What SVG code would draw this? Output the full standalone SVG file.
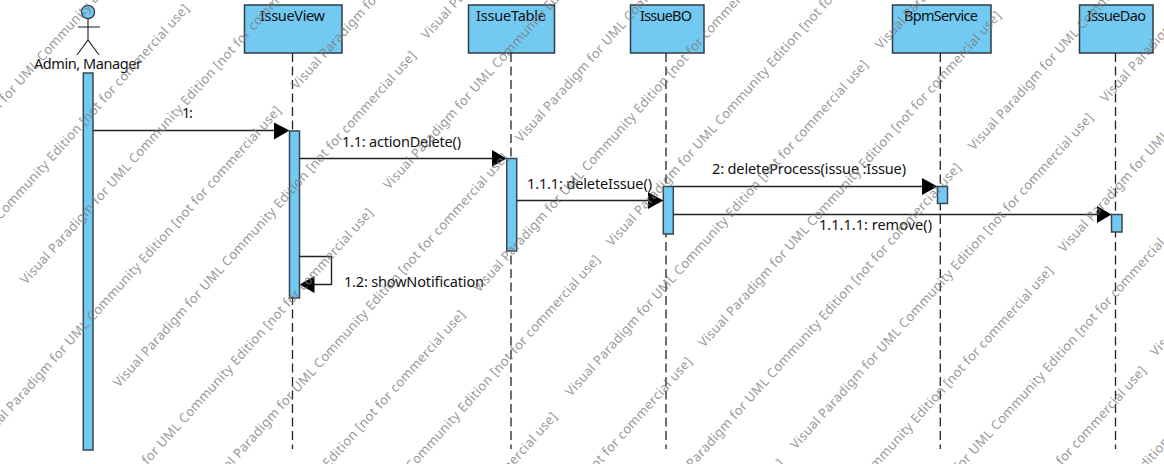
<svg xmlns="http://www.w3.org/2000/svg" width="1164" height="464" viewBox="0 0 1164 464">
<style>
text{font-family:"Noto Sans","DejaVu Sans",sans-serif}
.box{fill:#72caf2;stroke:#2f3b45;stroke-width:1.5}
.act{fill:#72caf2;stroke:#3a4650;stroke-width:1.5}
.life{fill:none;stroke:#222;stroke-width:1.3;stroke-dasharray:9 4.5}
.msg{fill:none;stroke:#222;stroke-width:1.4}
.head{fill:#000}
.actor{fill:none;stroke:#1c1c1c;stroke-width:1.1}
.lbl{font-size:14.500px;fill:#111;text-anchor:start}
.wm{font-size:13px;fill:#7c7c7c;fill-opacity:.8}
</style>
<rect width="1164" height="464" fill="#fff"/>
<g id="node-actor">
<circle cx="88" cy="12" r="6.6" fill="#72caf2" stroke="#2f3b45" stroke-width="1.3"/>
<path class="actor" d="M88 19V40M78 27H100M77 55L88 40L99 55"/>
<text class="lbl" x="34" y="69" textLength="108">Admin, Manager</text>
<rect class="act" x="83.3" y="73" width="9.7" height="377"/>
</g>
<g id="node-issueview">
<rect class="box" x="244.5" y="5" width="97.5" height="48"/>
<text class="lbl" x="260" y="21" textLength="65">IssueView</text>
<path class="life" d="M292.5 53V449"/>
<rect class="act" x="289.5" y="131" width="10" height="167"/>
</g>
<g id="node-issuetable">
<rect class="box" x="468.5" y="5" width="86" height="48"/>
<text class="lbl" x="476" y="21" textLength="70">IssueTable</text>
<path class="life" d="M511 53V449"/>
<rect class="act" x="506.7" y="158.5" width="10" height="92.5"/>
</g>
<g id="node-issuebo">
<rect class="box" x="630.5" y="5" width="73.5" height="48"/>
<text class="lbl" x="640" y="21" textLength="52">IssueBO</text>
<path class="life" d="M666 53V449"/>
<rect class="act" x="663.3" y="186.5" width="10" height="47.5"/>
</g>
<g id="node-bpmservice">
<rect class="box" x="892.5" y="5" width="98.5" height="48"/>
<text class="lbl" x="904" y="21" textLength="74">BpmService</text>
<path class="life" d="M940.3 53V449"/>
<rect class="act" x="937.5" y="186.5" width="10" height="17"/>
</g>
<g id="node-issuedao">
<rect class="box" x="1079.5" y="5" width="73.5" height="48"/>
<text class="lbl" x="1087" y="21" textLength="59">IssueDao</text>
<path class="life" d="M1115.5 53V449"/>
<rect class="act" x="1111.5" y="214.5" width="10.5" height="17.5"/>
</g>
<g id="connectors">
<path class="msg" d="M93 130.5H276"/><path class="head" d="M274 122.500L289.500 130.500L274 139.500Z"/>
<text class="lbl" x="182" y="118" textLength="11">1:</text>
<path class="msg" d="M299.500 158.500H494"/><path class="head" d="M492 150L506.500 158.500L492 167Z"/>
<text class="lbl" x="342" y="147" textLength="119">1.1: actionDelete()</text>
<path class="msg" d="M516.700 200.500H650"/><path class="head" d="M648 192L663.300 200.500L648 209Z"/>
<text class="lbl" x="527" y="189" textLength="125">1.1.1: deleteIssue()</text>
<path class="msg" d="M673.300 186.500H924"/><path class="head" d="M922 178L937.500 186.500L922 195Z"/>
<text class="lbl" x="712" y="174" textLength="194">2: deleteProcess(issue :Issue)</text>
<path class="msg" d="M673.300 214.500H1099"/><path class="head" d="M1097 206L1111.500 214.500L1097 223Z"/>
<text class="lbl" x="819" y="230" textLength="113">1.1.1.1: remove()</text>
<path class="msg" d="M299.500 256.500H331.500V284.500H312"/><path class="head" d="M314.500 276L299.500 284.500L314.500 293Z"/>
<text class="lbl" x="344" y="287" textLength="140">1.2: showNotification</text>
</g>
<g id="watermark" class="wm" transform="translate(4 3)">
<text transform="translate(-112 338) rotate(-48.1)" textLength="446">Visual Paradigm for UML Community Edition [not for commercial use]</text>
<text transform="translate(-20 440) rotate(-48.1)" textLength="446">Visual Paradigm for UML Community Edition [not for commercial use]</text>
<text transform="translate(72 542) rotate(-48.1)" textLength="446">Visual Paradigm for UML Community Edition [not for commercial use]</text>
<text transform="translate(164 644) rotate(-48.1)" textLength="446">Visual Paradigm for UML Community Edition [not for commercial use]</text>
<text transform="translate(256 746) rotate(-48.1)" textLength="446">Visual Paradigm for UML Community Edition [not for commercial use]</text>
<text transform="translate(-70 180) rotate(-48.1)" textLength="446">Visual Paradigm for UML Community Edition [not for commercial use]</text>
<text transform="translate(22 282) rotate(-48.1)" textLength="446">Visual Paradigm for UML Community Edition [not for commercial use]</text>
<text transform="translate(115 385) rotate(-48.1)" textLength="446">Visual Paradigm for UML Community Edition [not for commercial use]</text>
<text transform="translate(207 487) rotate(-48.1)" textLength="446">Visual Paradigm for UML Community Edition [not for commercial use]</text>
<text transform="translate(299 589) rotate(-48.1)" textLength="446">Visual Paradigm for UML Community Edition [not for commercial use]</text>
<text transform="translate(391 691) rotate(-48.1)" textLength="446">Visual Paradigm for UML Community Edition [not for commercial use]</text>
<text transform="translate(483 793) rotate(-48.1)" textLength="446">Visual Paradigm for UML Community Edition [not for commercial use]</text>
<text transform="translate(293 87) rotate(-48.1)" textLength="446">Visual Paradigm for UML Community Edition [not for commercial use]</text>
<text transform="translate(385 187) rotate(-48.1)" textLength="446">Visual Paradigm for UML Community Edition [not for commercial use]</text>
<text transform="translate(475 290) rotate(-48.1)" textLength="446">Visual Paradigm for UML Community Edition [not for commercial use]</text>
<text transform="translate(567 394) rotate(-48.1)" textLength="446">Visual Paradigm for UML Community Edition [not for commercial use]</text>
<text transform="translate(660 497) rotate(-48.1)" textLength="446">Visual Paradigm for UML Community Edition [not for commercial use]</text>
<text transform="translate(752 600) rotate(-48.1)" textLength="446">Visual Paradigm for UML Community Edition [not for commercial use]</text>
<text transform="translate(845 700) rotate(-48.1)" textLength="446">Visual Paradigm for UML Community Edition [not for commercial use]</text>
<text transform="translate(423 37) rotate(-48.1)" textLength="446">Visual Paradigm for UML Community Edition [not for commercial use]</text>
<text transform="translate(517 140) rotate(-48.1)" textLength="446">Visual Paradigm for UML Community Edition [not for commercial use]</text>
<text transform="translate(608 244) rotate(-48.1)" textLength="446">Visual Paradigm for UML Community Edition [not for commercial use]</text>
<text transform="translate(700 345) rotate(-48.1)" textLength="446">Visual Paradigm for UML Community Edition [not for commercial use]</text>
<text transform="translate(792 447) rotate(-48.1)" textLength="446">Visual Paradigm for UML Community Edition [not for commercial use]</text>
<text transform="translate(884 549) rotate(-48.1)" textLength="446">Visual Paradigm for UML Community Edition [not for commercial use]</text>
<text transform="translate(976 651) rotate(-48.1)" textLength="446">Visual Paradigm for UML Community Edition [not for commercial use]</text>
<text transform="translate(877 47) rotate(-48.1)" textLength="446">Visual Paradigm for UML Community Edition [not for commercial use]</text>
<text transform="translate(970 148) rotate(-48.1)" textLength="446">Visual Paradigm for UML Community Edition [not for commercial use]</text>
<text transform="translate(1060 250) rotate(-48.1)" textLength="446">Visual Paradigm for UML Community Edition [not for commercial use]</text>
<text transform="translate(1152 354) rotate(-48.1)" textLength="446">Visual Paradigm for UML Community Edition [not for commercial use]</text>
<text transform="translate(1102 100) rotate(-48.1)" textLength="446">Visual Paradigm for UML Community Edition [not for commercial use]</text>
</g>
</svg>
